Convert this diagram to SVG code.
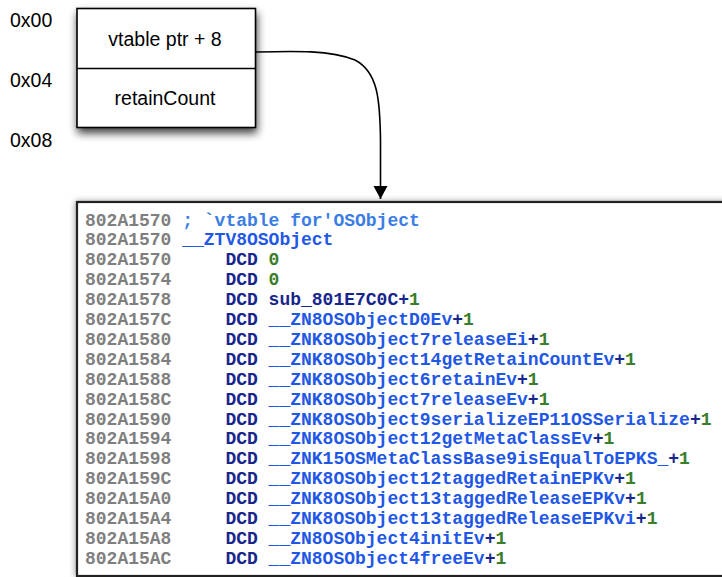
<svg xmlns="http://www.w3.org/2000/svg" width="722" height="577" viewBox="0 0 722 577">
  <defs>
    <filter id="shadow" x="-20%" y="-20%" width="140%" height="150%">
      <feGaussianBlur in="SourceAlpha" stdDeviation="4"/>
      <feOffset dx="1" dy="5" result="b"/>
      <feComponentTransfer><feFuncA type="linear" slope="0.75"/></feComponentTransfer>
      <feMerge><feMergeNode/><feMergeNode in="SourceGraphic"/></feMerge>
    </filter>
    <filter id="shadow2" x="-10%" y="-10%" width="120%" height="120%">
      <feGaussianBlur in="SourceAlpha" stdDeviation="3"/>
      <feOffset dx="-1" dy="0"/>
      <feComponentTransfer><feFuncA type="linear" slope="0.35"/></feComponentTransfer>
      <feMerge><feMergeNode/><feMergeNode in="SourceGraphic"/></feMerge>
    </filter>
    <marker id="arrow" viewBox="0 0 14 16" refX="13" refY="7" markerWidth="14" markerHeight="16" markerUnits="userSpaceOnUse" orient="auto">
      <path d="M0,0 L13,7 L0,14 Z" fill="#000"/>
    </marker>
  </defs>
  <style>
    .lbl { font-family: "Liberation Sans", Arial, sans-serif; font-size: 19.5px; fill: #000; }
    .box { fill: #fff; stroke: #000; stroke-width: 1.6; }
    .code { font-family: "Liberation Mono", "Courier New", monospace; font-size: 18px; font-weight: bold; }
    .addr { fill: #7f7f7f; }
    .kw { fill: #17268c; }
    .sym { fill: #1f57e6; }
    .cmt { fill: #3b7de6; }
    .num { fill: #3a7d2a; }
  </style>
  <rect width="722" height="577" fill="#fff"/>

  <!-- offset labels -->
  <g id="offsets">
    <text class="lbl" x="10" y="27">0x00</text>
    <text class="lbl" x="10" y="87">0x04</text>
    <text class="lbl" x="10" y="147">0x08</text>
  </g>

  <!-- object layout -->
  <g id="object">
    <rect class="box" x="77" y="8.5" width="178.5" height="119" filter="url(#shadow)"/>
    <line x1="77" y1="68.5" x2="255.5" y2="68.5" stroke="#000" stroke-width="1.6"/>
    <text class="lbl" x="165" y="46" text-anchor="middle">vtable ptr + 8</text>
    <text class="lbl" x="165" y="105" text-anchor="middle">retainCount</text>
  </g>

  <!-- vtable listing -->
  <g id="vtable">
    <rect x="77" y="202" width="660" height="374" fill="#fff" stroke="#222" stroke-width="2.2" filter="url(#shadow2)"/>
    <g class="code">
      <text class="addr" x="85" y="225.5">802A1570</text>
      <text class="cmt" x="182.2" y="225.5">; `vtable for'OSObject</text>

      <text class="addr" x="85" y="245.4">802A1570</text>
      <text class="sym" x="182.2" y="245.4">__ZTV8OSObject</text>

      <text class="addr" x="85" y="265.3">802A1570</text>
      <text class="kw" x="225.4" y="265.3">DCD</text>
      <text class="num" x="268.6" y="265.3">0</text>

      <text class="addr" x="85" y="285.2">802A1574</text>
      <text class="kw" x="225.4" y="285.2">DCD</text>
      <text class="num" x="268.6" y="285.2">0</text>

      <text class="addr" x="85" y="305.1">802A1578</text>
      <text class="kw" x="225.4" y="305.1">DCD</text>
      <text class="kw" x="268.6" y="305.1">sub_801E7C0C+<tspan class="num">1</tspan></text>

      <text class="addr" x="85" y="325">802A157C</text>
      <text class="kw" x="225.4" y="325">DCD</text>
      <text class="kw" x="268.6" y="325"><tspan class="sym">__ZN8OSObjectD0Ev</tspan>+<tspan class="num">1</tspan></text>

      <text class="addr" x="85" y="344.9">802A1580</text>
      <text class="kw" x="225.4" y="344.9">DCD</text>
      <text class="kw" x="268.6" y="344.9"><tspan class="sym">__ZNK8OSObject7releaseEi</tspan>+<tspan class="num">1</tspan></text>

      <text class="addr" x="85" y="364.8">802A1584</text>
      <text class="kw" x="225.4" y="364.8">DCD</text>
      <text class="kw" x="268.6" y="364.8"><tspan class="sym">__ZNK8OSObject14getRetainCountEv</tspan>+<tspan class="num">1</tspan></text>

      <text class="addr" x="85" y="384.7">802A1588</text>
      <text class="kw" x="225.4" y="384.7">DCD</text>
      <text class="kw" x="268.6" y="384.7"><tspan class="sym">__ZNK8OSObject6retainEv</tspan>+<tspan class="num">1</tspan></text>

      <text class="addr" x="85" y="404.6">802A158C</text>
      <text class="kw" x="225.4" y="404.6">DCD</text>
      <text class="kw" x="268.6" y="404.6"><tspan class="sym">__ZNK8OSObject7releaseEv</tspan>+<tspan class="num">1</tspan></text>

      <text class="addr" x="85" y="424.5">802A1590</text>
      <text class="kw" x="225.4" y="424.5">DCD</text>
      <text class="kw" x="268.6" y="424.5"><tspan class="sym">__ZNK8OSObject9serializeEP11OSSerialize</tspan>+<tspan class="num">1</tspan></text>

      <text class="addr" x="85" y="444.4">802A1594</text>
      <text class="kw" x="225.4" y="444.4">DCD</text>
      <text class="kw" x="268.6" y="444.4"><tspan class="sym">__ZNK8OSObject12getMetaClassEv</tspan>+<tspan class="num">1</tspan></text>

      <text class="addr" x="85" y="464.3">802A1598</text>
      <text class="kw" x="225.4" y="464.3">DCD</text>
      <text class="kw" x="268.6" y="464.3"><tspan class="sym">__ZNK15OSMetaClassBase9isEqualToEPKS_</tspan>+<tspan class="num">1</tspan></text>

      <text class="addr" x="85" y="484.2">802A159C</text>
      <text class="kw" x="225.4" y="484.2">DCD</text>
      <text class="kw" x="268.6" y="484.2"><tspan class="sym">__ZNK8OSObject12taggedRetainEPKv</tspan>+<tspan class="num">1</tspan></text>

      <text class="addr" x="85" y="504.1">802A15A0</text>
      <text class="kw" x="225.4" y="504.1">DCD</text>
      <text class="kw" x="268.6" y="504.1"><tspan class="sym">__ZNK8OSObject13taggedReleaseEPKv</tspan>+<tspan class="num">1</tspan></text>

      <text class="addr" x="85" y="524">802A15A4</text>
      <text class="kw" x="225.4" y="524">DCD</text>
      <text class="kw" x="268.6" y="524"><tspan class="sym">__ZNK8OSObject13taggedReleaseEPKvi</tspan>+<tspan class="num">1</tspan></text>

      <text class="addr" x="85" y="543.9">802A15A8</text>
      <text class="kw" x="225.4" y="543.9">DCD</text>
      <text class="kw" x="268.6" y="543.9"><tspan class="sym">__ZN8OSObject4initEv</tspan>+<tspan class="num">1</tspan></text>

      <text class="addr" x="85" y="563.8">802A15AC</text>
      <text class="kw" x="225.4" y="563.8">DCD</text>
      <text class="kw" x="268.6" y="563.8"><tspan class="sym">__ZN8OSObject4freeEv</tspan>+<tspan class="num">1</tspan></text>
    </g>
  </g>

  <!-- connectors -->
  <g id="connectors" fill="none" stroke="#000" stroke-width="1.6">
    <path d="M256,52 C295,51 330,50 355,60 C378,72 380,100 380.5,140 L380.5,199" marker-end="url(#arrow)"/>
  </g>
</svg>
